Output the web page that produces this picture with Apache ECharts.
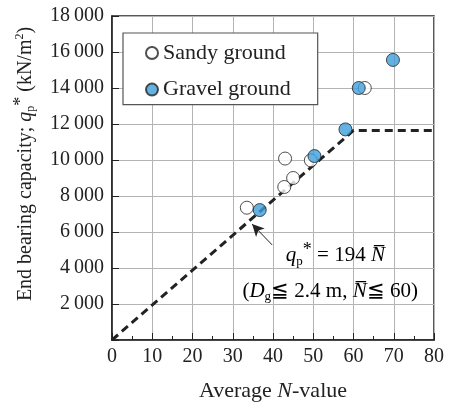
<!DOCTYPE html>
<html><head><meta charset="utf-8">
<script src="https://cdn.jsdelivr.net/npm/echarts@6/dist/echarts.min.js"></script>
<style>html,body{margin:0;padding:0;background:#fff}#chart{width:451px;height:403px}</style>
</head><body><div id="chart"></div>
<script>
// Measured points: average N-value vs end bearing capacity (kN/m2)
const sandyN = [33.5, 42.8, 45.0, 43.0, 49.4, 62.8];
const sandyQ = [7350, 8500, 9000, 10080, 9980, 14000];
const gravelN = [36.7, 50.3, 58.0, 61.3, 69.8];
const gravelQ = [7220, 10220, 11700, 14000, 15560];
// Design line q = 194 N, capped at N = 60
const designN = [0, 60, 80];
const designQ = [0, 11640, 11640];
// Arrow from the formula to the line
const arrowFrom = [39.8, 5280];
const arrowTo = [34.8, 6440];
// Formula label anchors (data coords)
const formulaAt = [55.5, 4700];
const rangeAt = [54.2, 2720];

const FONT = 'Liberation Serif';
const INK = '#222';
const BLUE = '#3d9ddb';

const zip = (a, b) => a.map((v, i) => [v, b[i]]);
const fmt = v => v === 0 ? '' : String(v).replace(/\B(?=(\d{3})+(?!\d))/g, '\u2009');

const chart = echarts.init(document.getElementById('chart'), null, {renderer: 'canvas'});

const axisCommon = {
  axisLine: {show: true, lineStyle: {color: INK, width: 1.5}},
  splitLine: {show: true, lineStyle: {color: '#b4b4b4', width: 1}},
  axisLabel: {color: INK, fontFamily: FONT, fontSize: 20}
};

chart.setOption({
  animation: false,
  backgroundColor: '#fff',
  textStyle: {fontFamily: FONT},
  grid: {left: 112, top: 16, right: 17, bottom: 63, outerBoundsMode: 'none', containLabel: false,
    show: true, borderColor: INK, borderWidth: 1.5, backgroundColor: 'transparent'},
  legend: {
    left: 123, top: 33, orient: 'vertical',
    backgroundColor: '#fff', borderColor: '#555', borderWidth: 1.2,
    padding: [8, 27, 3, 22], itemGap: 12.6, itemWidth: 12, itemHeight: 12,
    textStyle: {color: INK, fontFamily: FONT, fontSize: 22, lineHeight: 24},
    data: ['Sandy ground', 'Gravel ground']
  },
  xAxis: Object.assign({}, axisCommon, {
    type: 'value', min: 0, max: 80, interval: 10,
    axisTick: {show: true, inside: true, length: 7, lineStyle: {color: INK}},
    minorTick: {show: true, splitNumber: 2, length: 4, lineStyle: {color: INK}},
    axisLabel: Object.assign({}, axisCommon.axisLabel, {margin: 7}),
    name: '{n|Average }{i|N}{n|-value}', nameLocation: 'middle', nameGap: 40,
    nameTextStyle: {rich: {
      n: {fontFamily: FONT, fontSize: 22, color: INK},
      i: {fontFamily: FONT, fontSize: 22, color: INK, fontStyle: 'italic'}
    }}
  }),
  yAxis: Object.assign({}, axisCommon, {
    type: 'value', min: 0, max: 18000, interval: 2000,
    axisTick: {show: true, inside: true, length: 7, lineStyle: {color: INK}},
    axisLabel: Object.assign({}, axisCommon.axisLabel, {margin: 8, formatter: fmt}),
    name: '{n|End bearing capacity; }{i|q}{sub|p}{sup|*}{n| (kN/m}{sup2|2}{n|)}',
    nameLocation: 'middle', nameGap: 72, nameRotate: 90,
    nameTextStyle: {padding: [0, 0, 0, 28], rich: {
      n: {fontFamily: FONT, fontSize: 20, color: INK},
      i: {fontFamily: FONT, fontSize: 20, color: INK, fontStyle: 'italic'},
      sub: {fontFamily: FONT, fontSize: 12, color: INK, padding: [10, 0, 0, 0]},
      sup: {fontFamily: FONT, fontSize: 18, color: INK, padding: [0, 0, 10, 0]},
      sup2: {fontFamily: FONT, fontSize: 12, color: INK, padding: [0, 0, 12, 0]}
    }}
  }),
  series: [
    {
      type: 'line', name: 'design', data: zip(designN, designQ),
      showSymbol: false, silent: true, z: 1,
      lineStyle: {color: INK, width: 3, type: [8, 5]},
      markLine: {
        silent: true, symbol: ['none', 'arrow'], symbolSize: [9, 12],
        lineStyle: {color: INK, width: 1, type: 'solid'}, label: {show: false},
        data: [[{coord: arrowFrom}, {coord: arrowTo}]]
      }
    },
    {
      type: 'scatter', name: 'Sandy ground', data: zip(sandyN, sandyQ),
      symbol: 'circle', symbolSize: 13, z: 3,
      itemStyle: {color: '#fff', borderColor: INK, borderWidth: 1}
    },
    {
      type: 'scatter', name: 'Gravel ground', data: zip(gravelN, gravelQ),
      symbol: 'circle', symbolSize: 13, z: 4,
      itemStyle: {color: BLUE, borderColor: INK, borderWidth: 1}
    }
  ]
});

// Formula text placed at data anchors
const p1 = chart.convertToPixel({gridIndex: 0}, formulaAt);
const p2 = chart.convertToPixel({gridIndex: 0}, rangeAt);
const rich = {
  n: {fontFamily: FONT, fontSize: 21, color: INK},
  i: {fontFamily: FONT, fontSize: 21, color: INK, fontStyle: 'italic'},
  sub: {fontFamily: FONT, fontSize: 13, color: INK, padding: [12, 0, 0, 0]},
  sup: {fontFamily: FONT, fontSize: 18, color: INK, padding: [0, 0, 10, 0]}
};
chart.setOption({
  graphic: [
    {type: 'text', x: p1[0], y: p1[1], z: 10, style: {
      text: '{i|q}{sub|p}{sup|*}{n| = 194 }{i|N\u0305}', rich: rich,
      align: 'center', verticalAlign: 'middle'}},
    {type: 'text', x: p2[0], y: p2[1], z: 10, style: {
      text: '{n|(}{i|D}{sub|g}{n|\u2266 2.4 m, }{i|N\u0305}{n|\u2266 60)}', rich: rich,
      align: 'center', verticalAlign: 'middle'}}
  ]
});
</script>
</body></html>
